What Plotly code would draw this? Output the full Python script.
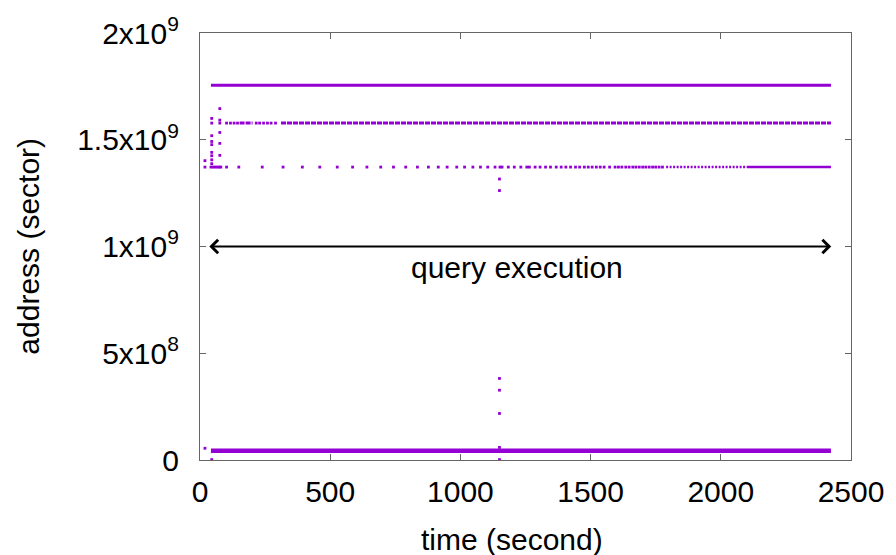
import plotly.graph_objects as go

# Block address bands (sector) that are hit throughout the run
band_top = 1.755e9
band_mid = 1.578e9
band_low = 1.372e9
band_base = 4.3e7

# Continuous request streams: [start, end] in seconds
top_run = [42, 2423]
base_run = [42, 2423]
mid_runs = [[152, 202], [311, 2423]]
low_dotted_run = [1790, 2100]
low_solid_run = [2100, 2423]

# Individual requests on the mid band before it becomes continuous
mid_times = [45, 76, 102, 117, 131, 144, 216, 229, 244, 259, 273, 290]

# Individual requests on the low band (sparse at first, denser later)
low_times = [19, 42, 50, 58, 66, 74, 80, 102, 149, 239, 319, 393, 460, 527,
             586, 641, 694, 743, 790, 835, 877, 915, 949, 986, 1016, 1048,
             1077, 1105, 1133, 1152, 1160, 1184, 1207, 1232, 1255, 1265,
             1287, 1306, 1327, 1346, 1368, 1387, 1405, 1423, 1442, 1458,
             1476, 1491, 1506, 1522, 1537, 1552, 1573, 1594, 1607, 1620,
             1635, 1648, 1662, 1674, 1687, 1700, 1712, 1725, 1738, 1750,
             1763, 1776]

# Stray requests outside the main bands
stray_t = [19, 45, 45, 45, 45, 45, 45, 45, 45, 76, 76, 76, 76, 76, 19, 45,
           1150, 1150, 1150, 1150, 1150, 1150, 1150]
stray_addr = [1.402e9, 1.600e9, 1.519e9, 1.492e9, 1.477e9, 1.441e9, 1.425e9,
              1.406e9, 1.388e9, 1.646e9, 1.592e9, 1.534e9, 1.483e9, 1.427e9,
              5.5e7, 2e6, 1.316e9, 1.262e9, 3.82e8, 3.27e8, 2.18e8, 5.9e7, 2e6]

# Query execution window (seconds)
query_span = [30, 2424]
query_label = "query execution"

x_ticks = [0, 500, 1000, 1500, 2000, 2500]
y_ticks = [0, 5e8, 1e9, 1.5e9, 2e9]
y_tick_text = ["0", "5x10<sup>8</sup>", "1x10<sup>9</sup>",
               "1.5x10<sup>9</sup>", "2x10<sup>9</sup>"]
x_title = "time (second)"
y_title = "address (sector)"

COLOR = "#9400d3"
FONT = "Liberation Sans, Arial, sans-serif"
FS = 30

fig = go.Figure()


def add_run(run, addr, width, dash="solid"):
    fig.add_trace(go.Scatter(
        x=run, y=[addr, addr], mode="lines",
        line=dict(color=COLOR, width=width, dash=dash),
        hoverinfo="skip", showlegend=False))


add_run(top_run, band_top, 3)
add_run(base_run, band_base, 4.5)
for r in mid_runs:
    add_run(r, band_mid, 3, "5px,1px")
add_run(low_dotted_run, band_low, 2.5, "2px,1.5px")
add_run(low_solid_run, band_low, 2.5)


def add_points(xs, ys):
    fig.add_trace(go.Scatter(
        x=xs, y=ys, mode="markers",
        marker=dict(color=COLOR, size=2.8, symbol="square", line=dict(width=0)),
        cliponaxis=False, hoverinfo="skip", showlegend=False))


add_points(mid_times, [band_mid] * len(mid_times))
add_points(low_times, [band_low] * len(low_times))
add_points(stray_t, stray_addr)

# Double-headed arrow marking the query execution window
fig.add_annotation(
    x=query_span[1], y=1e9, ax=query_span[0], ay=1e9,
    xref="x", yref="y", axref="x", ayref="y",
    text="", showarrow=True, arrowhead=4, startarrowhead=4,
    arrowside="end+start", arrowsize=1.3, startarrowsize=1.3,
    arrowwidth=2, arrowcolor="black")
fig.add_annotation(
    x=sum(query_span) / 2 - 10, y=0.9e9, xref="x", yref="y",
    text=query_label, showarrow=False,
    font=dict(family=FONT, size=FS, color="black"))

# Axis titles placed in paper coordinates
fig.add_annotation(
    x=0.48, y=-0.187, xref="paper", yref="paper", xanchor="center",
    yanchor="middle", text=x_title, showarrow=False,
    font=dict(family=FONT, size=FS, color="black"))
fig.add_annotation(
    x=-0.264, y=0.5, xref="paper", yref="paper", xanchor="center",
    yanchor="middle", text=y_title, textangle=-90, showarrow=False,
    font=dict(family=FONT, size=FS, color="black"))

axis_common = dict(
    showgrid=False, zeroline=False, showline=True, mirror="ticks",
    linecolor="#666666", linewidth=1.2, ticks="inside", ticklen=6,
    tickwidth=1, tickcolor="#666666",
    tickfont=dict(family=FONT, size=FS, color="black"))

fig.update_xaxes(range=[0, 2500], tickvals=x_ticks, ticklabelstandoff=5,
                 **axis_common)
fig.update_yaxes(range=[0, 2e9], tickvals=y_ticks, ticktext=y_tick_text,
                 ticklabelstandoff=14, **axis_common)

fig.update_layout(
    width=896, height=555,
    margin=dict(l=200, r=40, t=32, b=95),
    plot_bgcolor="white", paper_bgcolor="white",
    font=dict(family=FONT, color="black"))

fig.write_html("out.html")
